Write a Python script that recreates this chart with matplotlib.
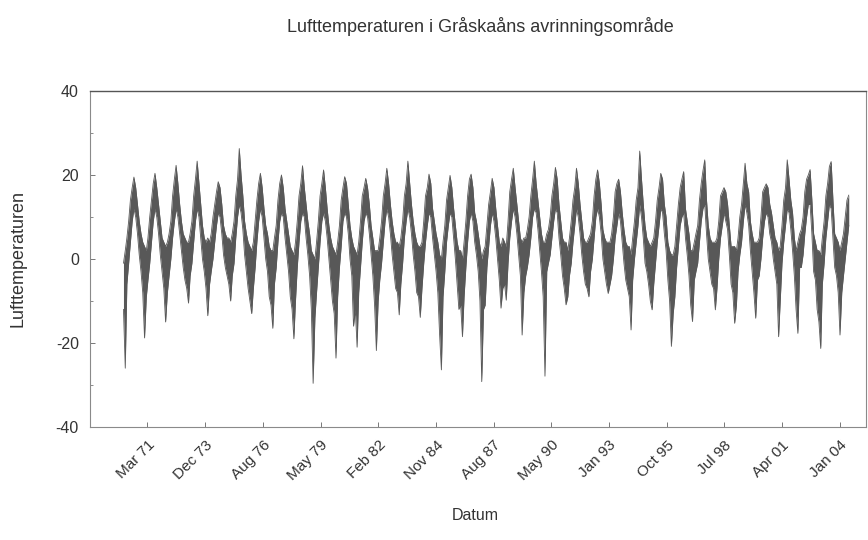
import numpy as np
import pandas as pd
import matplotlib
matplotlib.use("Agg")
import matplotlib.pyplot as plt
from matplotlib.ticker import MultipleLocator

plt.rcParams['font.family'] = ['Liberation Sans', 'DejaVu Sans']
plt.rcParams['axes.unicode_minus'] = False

# ---- data: monthly envelope (highest / lowest daily value) of air temperature ----
start_month = "1970-01-01"
end_month = "2004-06-01"

temp_high = [
    -1, 2, 5, 9, 14, 17, 19.5, 17, 13, 9, 6, 4,          # 1970
    3, 2, 5, 10, 14, 18, 20.4, 17, 13, 9, 5, 4,          # 1971
    3, 4, 6, 9, 15, 19, 22.3, 18, 13, 9, 6, 5,           # 1972
    4, 4, 6, 9, 15, 19, 23.3, 18, 13, 8, 5, 4,           # 1973
    5, 4, 6, 10, 13, 16, 18.4, 17, 13, 8, 6, 5,          # 1974
    5, 4, 6, 9, 15, 19, 26.3, 20, 15, 9, 6, 4,           # 1975
    3, 2, 4, 9, 14, 18, 20.4, 17, 12, 8, 6, 3,           # 1976
    2, 2, 5, 8, 14, 18, 20.0, 17, 12, 9, 6, 3,           # 1977
    2, 1, 4, 9, 15, 18, 22.2, 17, 13, 9, 6, 2,           # 1978
    1, 0, 4, 9, 15, 18, 21.2, 17, 12, 8, 5, 3,           # 1979
    2, 1, 4, 8, 14, 17, 19.6, 18, 13, 8, 5, 3,           # 1980
    2, 1, 4, 9, 15, 17, 19.2, 17, 13, 8, 5, 2,           # 1981
    2, 2, 5, 9, 15, 18, 21.6, 18, 13, 9, 6, 4,           # 1982
    4, 3, 5, 9, 15, 18, 23.3, 18, 13, 9, 6, 4,           # 1983
    3, 3, 4, 9, 15, 17, 20.2, 18, 12, 9, 6, 4,           # 1984
    1, 0, 4, 8, 14, 17, 19.9, 17, 12, 8, 4, 2,           # 1985
    2, 0, 4, 9, 15, 19, 20.2, 17, 11, 9, 6, 3,           # 1986
    0, 2, 3, 8, 13, 16, 19.2, 17, 12, 8, 4, 3,           # 1987
    5, 4, 3, 9, 16, 19, 21.6, 17, 13, 9, 5, 4,           # 1988
    5, 5, 7, 10, 15, 19, 23.3, 18, 14, 10, 6, 4,         # 1989
    4, 6, 7, 10, 15, 18, 21.8, 19, 13, 9, 5, 4,          # 1990
    4, 2, 5, 9, 14, 17, 21.6, 18, 13, 9, 5, 4,           # 1991
    4, 5, 6, 9, 15, 19, 21.2, 18, 13, 7, 5, 4,           # 1992
    4, 4, 6, 10, 16, 18, 19.0, 16, 11, 7, 4, 3,          # 1993
    3, 1, 5, 9, 14, 17, 25.7, 19, 13, 8, 5, 4,           # 1994
    3, 4, 5, 9, 14, 17, 20.4, 19, 13, 10, 4, 2,          # 1995
    1, 1, 3, 8, 13, 17, 19, 20.8, 12, 9, 6, 2,           # 1996
    2, 4, 6, 8, 14, 18, 21, 23.6, 14, 8, 5, 4,           # 1997
    4, 4, 5, 9, 15, 16, 17.0, 16, 13, 8, 3, 3,           # 1998
    3, 2, 5, 10, 13, 18, 22.8, 18, 16, 9, 6, 4,          # 1999
    4, 4, 5, 10, 16, 17, 17.9, 17, 13, 11, 8, 5,         # 2000
    4, 2, 3, 8, 14, 17, 23.6, 19, 14, 11, 5, 2,          # 2001
    4, 6, 7, 10, 16, 19, 20, 21.3, 14, 6, 4, 2,          # 2002
    2, 1, 5, 9, 15, 18, 22, 23.2, 14, 6, 5, 4,           # 2003
    2, 4, 6, 10, 14, 15.2,                               # 2004
]

temp_low = [
    -12, -26, -6, -1, 4, 9, 12, 10, 6, 1, -3, -8,        # 1970
    -18.8, -9, -5, -1, 4, 9, 12, 10, 6, 1, -3, -7,       # 1971
    -15, -8, -4, 0, 5, 9, 12, 10, 6, 2, -2, -5,          # 1972
    -7, -10.5, -4, -1, 4, 9, 12, 10, 5, 0, -3, -7,       # 1973
    -13.5, -6, -3, 0, 4, 8, 11, 10, 6, 1, -2, -4,        # 1974
    -6, -10, -4, -1, 5, 10, 13, 11, 7, 1, -3, -7,        # 1975
    -10, -13, -7, -2, 4, 9, 12, 10, 5, 0, -3, -9,        # 1976
    -11, -16.5, -6, -2, 4, 9, 11, 10, 5, 1, -3, -9,      # 1977
    -12, -19, -10, -2, 4, 9, 11, 10, 5, 1, -4, -12,      # 1978
    -29.6, -14, -8, -2, 4, 9, 11, 9, 5, 0, -5, -10,      # 1979
    -13, -23.6, -9, -2, 3, 9, 11, 10, 6, 0, -4, -16,     # 1980
    -12, -21, -8, -2, 4, 9, 11, 10, 6, 1, -4, -11,       # 1981
    -21.8, -10, -5, -1, 4, 9, 12, 10, 6, 1, -3, -7,      # 1982
    -8, -13.3, -6, -1, 5, 9, 12, 10, 6, 1, -3, -8,       # 1983
    -9, -13.9, -7, -1, 4, 8, 11, 10, 5, 1, -3, -8,       # 1984
    -18, -26.4, -9, -3, 4, 8, 11, 10, 5, 0, -6, -12,     # 1985
    -11, -18.5, -9, -2, 4, 9, 11, 9, 4, 1, -3, -10,      # 1986
    -29.2, -12, -11, -2, 3, 8, 11, 9, 5, 0, -5, -11.7,   # 1987
    -7, -6, -9.8, -1, 5, 9, 12, 10, 6, 1, -4, -18.1,     # 1988
    -8, -4, -2, 1, 5, 10, 12, 11, 7, 2, -3, -9,          # 1989
    -27.9, -3, -1, 1, 5, 9, 12, 11, 5, 1, -4, -7,        # 1990
    -10.9, -9, -4, -1, 4, 8, 12, 10, 6, 1, -3, -6,       # 1991
    -7, -9, -3, 0, 5, 10, 12, 10, 6, 0, -3, -6,          # 1992
    -8.2, -6, -4, 0, 5, 8, 11, 9, 4, -1, -5, -7,         # 1993
    -9, -16.9, -5, 0, 4, 8, 13, 10, 5, -1, -3, -6,       # 1994
    -10, -12.1, -6, -1, 4, 8, 12, 11, 6, 2, -5, -10,     # 1995
    -20.8, -13, -9, -2, 3, 8, 10, 11, 5, 1, -4, -11,     # 1996
    -14.9, -5, -3, -1, 4, 9, 12, 13, 6, 0, -3, -6,       # 1997
    -7, -12.1, -7, 0, 5, 8, 11, 9, 7, 1, -6, -8,         # 1998
    -15.3, -11, -3, 1, 4, 9, 13, 11, 8, 2, -3, -8,       # 1999
    -14.1, -5, -4, 0, 5, 9, 11, 10, 6, 4, 0, -3,         # 2000
    -6, -18.5, -10, -1, 4, 8, 12, 11, 7, 2, -4, -12,     # 2001
    -17.7, -2, -2, 1, 6, 10, 13, 13, 6, -3, -5, -12,     # 2002
    -15, -21.3, -6, -1, 5, 9, 13, 12, 5, -2, -4, -8,     # 2003
    -18.1, -8, -4, 0, 4, 8,                              # 2004
]

tick_start = "1971-03-07"   # axis ticks every 1000 days
tick_count = 13
x_limits = ("1968-06-14", "2005-04-10")
y_limits = (-40, 40)

title = "Lufttemperaturen i Gråskaåns avrinningsområde"
x_label = "Datum"
y_label = "Lufttemperaturen"

# ---- figure ----
months = pd.date_range(start_month, end_month, freq="MS") + pd.Timedelta(days=14)
hi = np.array(temp_high, dtype=float)
lo = np.array(temp_low, dtype=float)

W, H = 868, 540
fig = plt.figure(figsize=(W / 100, H / 100), dpi=100)
ax = fig.add_axes([90 / W, 1 - 427 / H, (866 - 90) / W, (427 - 91) / H])

band_color = "#585858"
ax.fill_between(months, lo, hi, color=band_color, linewidth=0)
ax.plot(months, hi, color=band_color, linewidth=0.6)
ax.plot(months, lo, color=band_color, linewidth=0.6)

ax.set_xlim(pd.Timestamp(x_limits[0]), pd.Timestamp(x_limits[1]))
ax.set_ylim(*y_limits)

ticks = pd.date_range(tick_start, periods=tick_count, freq="1000D")
ax.set_xticks(ticks)
ax.set_xticklabels([t.strftime("%b %y") for t in ticks], rotation=45,
                   ha="right", va="top", rotation_mode="anchor")
ax.yaxis.set_major_locator(MultipleLocator(20))
ax.yaxis.set_minor_locator(MultipleLocator(10))

text_color = "#333333"
ax.tick_params(axis="both", which="both", direction="in", color="#777777",
               labelcolor=text_color)
ax.tick_params(axis="x", which="major", labelsize=11)
ax.tick_params(axis="y", which="major", labelsize=11.5)
ax.tick_params(axis="both", which="major", length=3.5, width=0.7)
ax.tick_params(axis="y", which="minor", length=2, width=0.6)
ax.tick_params(axis="x", which="major", pad=8)
ax.tick_params(axis="y", which="major", pad=8)

for side in ["left", "bottom", "right"]:
    ax.spines[side].set_color("#8a8a8a")
    ax.spines[side].set_linewidth(0.8)
    ax.spines[side].set_linestyle((0, (1, 1)))
ax.spines["top"].set_color("#555555")
ax.spines["top"].set_linewidth(1.0)

fig.text(480 / W, 1 - 27 / H, title, ha="center", va="center",
         fontsize=13, color=text_color)
fig.text(475 / W, 1 - 516 / H, x_label, ha="center", va="center",
         fontsize=11.5, color=text_color)
fig.text(18 / W, 1 - 258 / H, y_label, ha="center", va="center",
         rotation=90, fontsize=13, color=text_color)

fig.savefig("out.png", dpi=100)
